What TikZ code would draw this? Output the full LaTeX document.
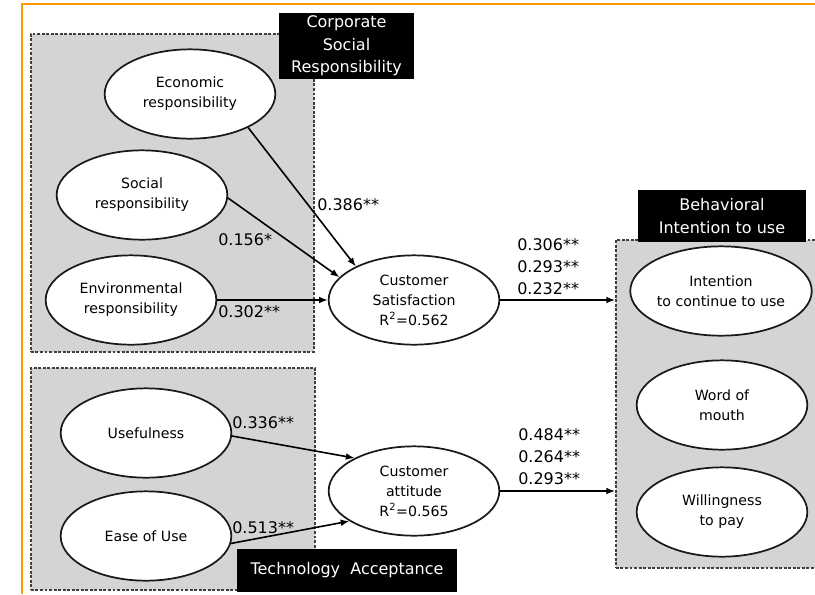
\documentclass[tikz,border=0pt]{standalone}
\usepackage{fontspec}
\setmainfont{DejaVu Sans}
\usetikzlibrary{arrows.meta, shapes.geometric}
\definecolor{boxgray}{RGB}{212,212,212}
\definecolor{frameorange}{RGB}{255,153,0}
\tikzset{
  grpbox/.style={rectangle, draw=black!75, fill=boxgray, dash pattern=on 2.2pt off 1.2pt, line width=1.4pt, inner sep=0pt, anchor=north west},
  grplbl/.style={rectangle, fill=black, text=white, align=center, inner sep=0pt, font=\fontsize{12}{17}\selectfont},
  construct/.style={ellipse, draw=black!90, fill=white, line width=1.3pt, minimum width=128pt, minimum height=67pt, inner sep=0pt, align=center, font=\fontsize{10.6}{15}\selectfont},
  pathcoef/.style={anchor=west, inner sep=0pt, align=left, font=\fontsize{12}{16.5}\selectfont},
  patharr/.style={-{Latex[length=2.3mm, width=1.8mm]}, line width=1.2pt},
}
\begin{document}
\begin{tikzpicture}[x=0.75pt, y=-0.75pt]
\useasboundingbox (0,0) rectangle (815,594);
\draw[frameorange, line width=1.5pt] (22,594) -- (22,4) -- (815,4);
\node[grpbox, minimum width=212.25pt, minimum height=238.5pt] (csr) at (30,33) {};
\node[grpbox, minimum width=213pt, minimum height=166.5pt] (tam) at (30,367) {};
\node[grpbox, minimum width=152.25pt, minimum height=246pt] (bi) at (615,239) {};
\node[grplbl, minimum width=101.25pt, minimum height=49.5pt] (csrlbl) at (346.5,46) {Corporate\\Social\\Responsibility};
\node[grplbl, minimum width=126pt, minimum height=39pt] (bilbl) at (722,216) {Behavioral\\Intention to use};
\node[grplbl, minimum width=165pt, minimum height=32.25pt] (tamlbl) at (347,570.5) {Technology~ Acceptance};
\node[construct] (econ) at (190,94) {Economic\\responsibility};
\node[construct] (social) at (142,195) {Social\\responsibility};
\node[construct] (env) at (131,300) {Environmental\\responsibility};
\node[construct] (useful) at (146,433) {Usefulness};
\node[construct] (ease) at (146,536) {Ease of Use};
\node[construct] (csat) at (414,300) {Customer\\Satisfaction\\R\textsuperscript{2}=0.562};
\node[construct] (catt) at (414,491) {Customer\\attitude\\R\textsuperscript{2}=0.565};
\node[construct] (intent) at (721,291) {Intention\\to continue to use};
\node[construct] (wom) at (722,405) {Word of\\mouth};
\node[construct] (willing) at (722,512) {Willingness\\to pay};
\draw[patharr] (econ.-30) -- (csat.150);
\draw[patharr] (social.-2) -- (csat.163);
\draw[patharr] (env.east) -- (csat.west);
\draw[patharr] (useful.-2) -- (catt.151);
\draw[patharr] (ease.-5) -- (catt.205);
\draw[patharr] (csat.east) -- (csat.east -| bi.west);
\draw[patharr] (catt.east) -- (catt.east -| bi.west);
\node[pathcoef] (c1) at (317,205) {0.386**};
\node[pathcoef] (c2) at (218,240) {0.156*};
\node[pathcoef] (c3) at (218,312) {0.302**};
\node[pathcoef] (c4) at (232,423) {0.336**};
\node[pathcoef] (c5) at (232,528) {0.513**};
\node[pathcoef] (c6) at (517,267) {0.306**\\0.293**\\0.232**};
\node[pathcoef] (c7) at (518,457) {0.484**\\0.264**\\0.293**};
\end{tikzpicture}
\end{document}
